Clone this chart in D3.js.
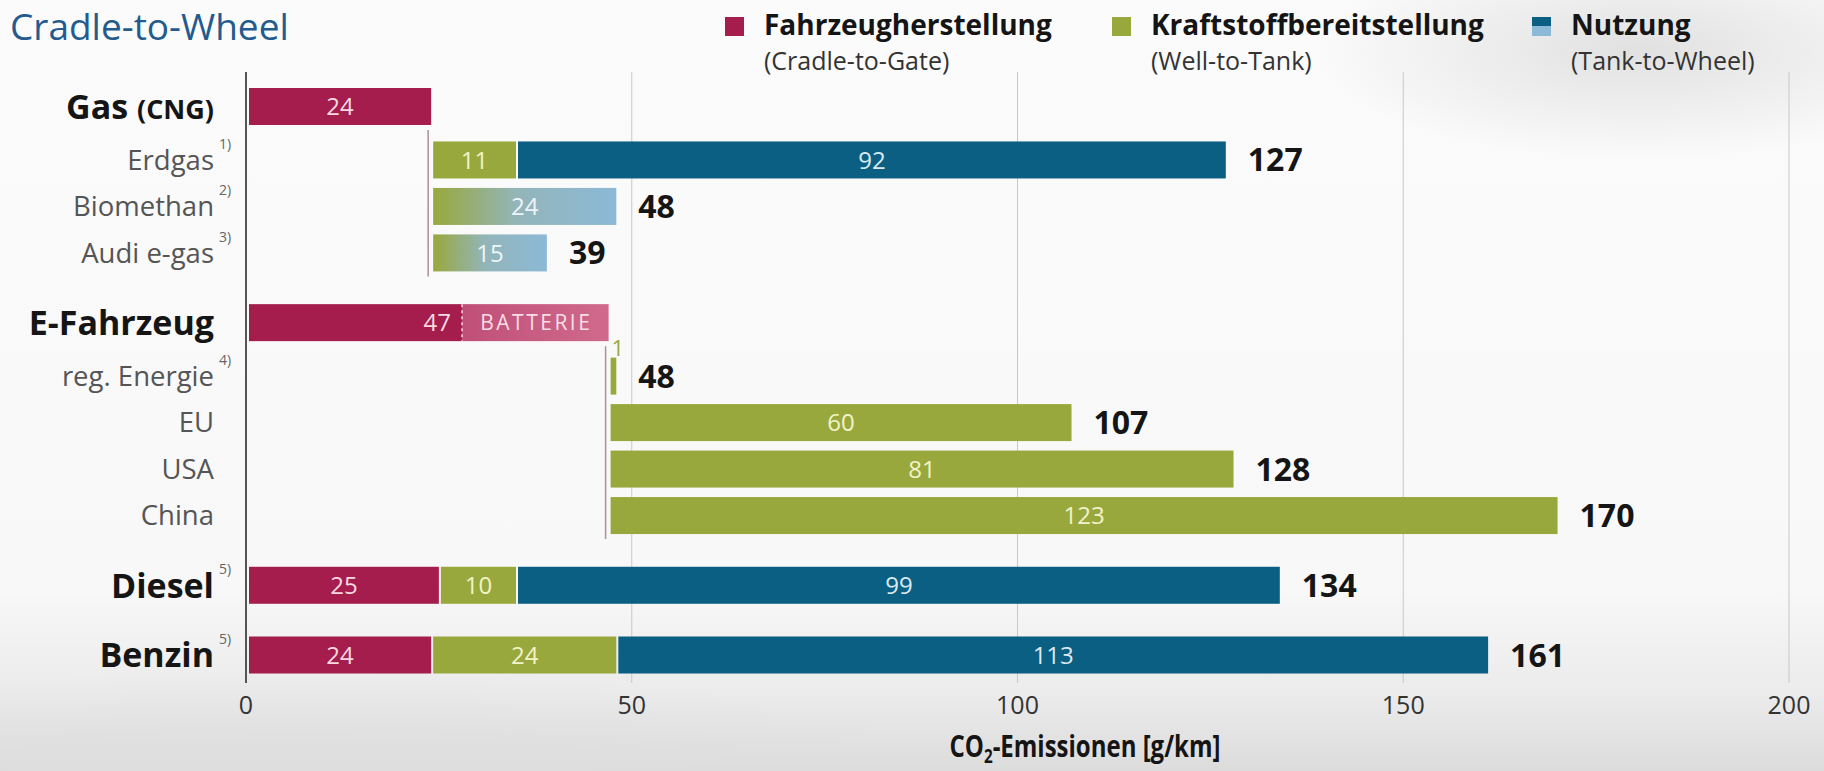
<!DOCTYPE html>
<html>
<head>
<meta charset="utf-8">
<script src="https://cdn.jsdelivr.net/npm/d3@7"></script>
<style>
  html, body { margin: 0; padding: 0; background: #fff; }
  svg { display: block; font-family: 'Open Sans', 'Noto Sans', sans-serif; }
</style>
</head>
<body>
<svg id="chart"></svg>
<script>
// categories, top to bottom
const rows = ['Gas', 'Erdgas', 'Biomethan', 'Audi e-gas', 'E-Fahrzeug', 'reg. Energie', 'EU', 'USA', 'China', 'Diesel', 'Benzin'];
const rowKind = ['head', 'sub', 'sub', 'sub', 'head', 'sub', 'sub', 'sub', 'sub', 'head', 'head'];
const footnotes = ['', '1)', '2)', '3)', '', '4)', '', '', '', '5)', '5)'];

// g CO2 / km
const startAt = [0, 24, 24, 24, 0, 47, 47, 47, 47, 0, 0];
const gateValues = [24, 0, 0, 0, 47, 0, 0, 0, 0, 25, 24];       // Fahrzeugherstellung
const wttValues = [0, 11, 0, 0, 0, 1, 60, 81, 123, 10, 24];      // Kraftstoffbereitstellung
const ttwValues = [0, 92, 0, 0, 0, 0, 0, 0, 0, 99, 113];         // Nutzung
const bioValues = [0, 0, 24, 15, 0, 0, 0, 0, 0, 0, 0];           // WTT + TTW, regenerativ
const totals = [null, 127, 48, 39, null, 48, 107, 128, 170, 134, 161];
const batteryShare = 19;   // Anteil Batterie an 47 g/km des E-Fahrzeugs

const xTicks = [0, 50, 100, 150, 200];

const legendItems = [
  { name: 'Fahrzeugherstellung', sub: '(Cradle-to-Gate)' },
  { name: 'Kraftstoffbereitstellung', sub: '(Well-to-Tank)' },
  { name: 'Nutzung', sub: '(Tank-to-Wheel)' }
];

const C = {
  red: '#a51d4c', green: '#99a83c', teal: '#0b5f82', light: '#8cb9d7',
  text: '#151515', grey: '#555'
};

const width = 1824, height = 771;
const svg = d3.select('#chart').attr('width', width).attr('height', height);
const defs = svg.append('defs');

// background
const bg = defs.append('linearGradient').attr('id', 'bg').attr('x1', 0).attr('y1', 0).attr('x2', 0).attr('y2', 1);
bg.append('stop').attr('offset', '0%').attr('stop-color', '#fbfbfb');
bg.append('stop').attr('offset', '76%').attr('stop-color', '#f8f8f8');
bg.append('stop').attr('offset', '90%').attr('stop-color', '#ebebeb');
bg.append('stop').attr('offset', '100%').attr('stop-color', '#dcdcdc');
svg.append('rect').attr('width', width).attr('height', height).attr('fill', 'url(#bg)');
const glow = defs.append('radialGradient').attr('id', 'glow');
glow.append('stop').attr('offset', '0%').attr('stop-color', '#dedede').attr('stop-opacity', 0.9);
glow.append('stop').attr('offset', '100%').attr('stop-color', '#dedede').attr('stop-opacity', 0);
svg.append('ellipse').attr('cx', 1640).attr('cy', 50).attr('rx', 330).attr('ry', 110).attr('fill', 'url(#glow)');
svg.append('ellipse').attr('cx', 300).attr('cy', 790).attr('rx', 700).attr('ry', 120).attr('fill', 'url(#glow)');

// gradients
const bio = defs.append('linearGradient').attr('id', 'bio');
bio.append('stop').attr('offset', '0%').attr('stop-color', C.green);
bio.append('stop').attr('offset', '45%').attr('stop-color', '#93b5b8');
bio.append('stop').attr('offset', '100%').attr('stop-color', C.light);
const batt = defs.append('linearGradient').attr('id', 'batt');
batt.append('stop').attr('offset', '0%').attr('stop-color', '#c04f77');
batt.append('stop').attr('offset', '100%').attr('stop-color', '#d06a8d');
const nutz = defs.append('linearGradient').attr('id', 'nutz').attr('x1', 0).attr('y1', 0).attr('x2', 0).attr('y2', 1);
nutz.append('stop').attr('offset', '50%').attr('stop-color', C.teal);
nutz.append('stop').attr('offset', '50%').attr('stop-color', C.light);

// scales
const x = d3.scaleLinear().domain([0, 200]).range([246, 1789]);

// row slots: wider gap before a group head, a bit more after it
const slots = [];
rows.forEach((r, i) => {
  if (i === 0) slots.push(0);
  else slots.push(slots[i - 1] + (rowKind[i] === 'head' ? 1.5 : rowKind[i - 1] === 'head' ? 1.15 : 1));
});
const y = d3.scaleLinear().domain([0, slots[slots.length - 1]]).range([106.5, 655]);
const barH = 37;
const plotTop = 72, plotBottom = 683;

// title
svg.append('text').attr('x', 10).attr('y', 40)
  .style('font-size', '37px').attr('fill', '#235b8e').text('Cradle-to-Wheel');

// legend
const legX = [725, 1112, 1532];
const leg = svg.append('g').selectAll('g').data(legendItems).join('g')
  .attr('transform', (d, i) => `translate(${legX[i]},0)`);
leg.append('rect').attr('y', 17).attr('width', 19).attr('height', 19)
  .attr('fill', (d, i) => [C.red, C.green, 'url(#nutz)'][i]);
leg.append('text').attr('x', 39).attr('y', 35).style('font-size', '28px').style('font-weight', 700)
  .attr('fill', C.text).text(d => d.name);
leg.append('text').attr('x', 39).attr('y', 70).style('font-size', '25px')
  .attr('fill', '#333').text(d => d.sub);

// grid
svg.append('g').selectAll('line').data(xTicks.slice(1)).join('line')
  .attr('x1', d => x(d)).attr('x2', d => x(d))
  .attr('y1', plotTop).attr('y2', plotBottom)
  .attr('stroke', '#c8c8c8').attr('stroke-width', 1);

// x axis labels
svg.append('g').selectAll('text').data(xTicks).join('text')
  .attr('x', d => x(d)).attr('y', 714).attr('text-anchor', 'middle')
  .style('font-size', '25px').attr('fill', '#333').text(d => d);

const axisTitle = svg.append('text').attr('transform', 'translate(1085,757) scale(0.8,1)').attr('text-anchor', 'middle')
  .style('font-size', '30px').style('font-weight', 700).attr('fill', C.text);
axisTitle.append('tspan').text('CO');
axisTitle.append('tspan').attr('dy', 6).style('font-size', '19px').text('2');
axisTitle.append('tspan').attr('dy', -6).text('-Emissionen [g/km]');

// connector lines from the vehicle bar down to the fuel variants
rows.forEach((r, i) => {
  if (rowKind[i] !== 'head') return;
  let j = i + 1;
  while (j < rows.length && rowKind[j] === 'sub') j++;
  if (j === i + 1) return;
  svg.append('line')
    .attr('x1', x(gateValues[i]) - 3).attr('x2', x(gateValues[i]) - 3)
    .attr('y1', y(slots[i]) + barH / 2 + 5).attr('y2', y(slots[j - 1]) + barH / 2 + 5)
    .attr('stroke', '#a9909c').attr('stroke-width', 1.5);
});

// stacked segments
const segs = [];
rows.forEach((r, i) => {
  let s = startAt[i];
  [[gateValues, C.red, 'gate'], [wttValues, C.green, 'wtt'], [ttwValues, C.teal, 'ttw'], [bioValues, 'url(#bio)', 'bio']]
    .forEach(([arr, fill, key]) => {
      const v = arr[i];
      if (!v) return;
      segs.push({ row: i, key, v, s0: s, s1: s + v, fill });
      s += v;
    });
});

const bars = svg.append('g');
segs.forEach(d => {
  const cy = y(slots[d.row]);
  const x0 = x(d.s0) + (d.s0 === 0 ? 3 : 2);
  const x1 = x(d.s1);
  if (d.key === 'gate' && rows[d.row] === 'E-Fahrzeug') {
    const split = x(d.s1 - batteryShare);
    bars.append('rect').attr('x', x0).attr('y', cy - barH / 2).attr('width', split - x0).attr('height', barH).attr('fill', C.red);
    bars.append('rect').attr('x', split).attr('y', cy - barH / 2).attr('width', x1 - split).attr('height', barH).attr('fill', 'url(#batt)');
    bars.append('line').attr('x1', split).attr('x2', split).attr('y1', cy - barH / 2).attr('y2', cy + barH / 2)
      .attr('stroke', '#f2d6e0').attr('stroke-width', 1.5).attr('stroke-dasharray', '3,3');
    bars.append('text').attr('x', split - 11).attr('y', cy).attr('dy', '0.36em').attr('text-anchor', 'end')
      .style('font-size', '24px').attr('fill', '#f6d8e3').text(d.v);
    bars.append('text').attr('x', (split + x1) / 2 + 1).attr('y', cy).attr('dy', '0.36em').attr('text-anchor', 'middle')
      .style('font-size', '21px').style('letter-spacing', '2.5px').attr('fill', '#f6dde6').text('BATTERIE');
    return;
  }
  bars.append('rect').attr('x', x0).attr('y', cy - barH / 2).attr('width', Math.max(1, x1 - x0)).attr('height', barH).attr('fill', d.fill);
  if (d.v > 1) {
    const tc = { gate: '#f6d8e3', wtt: '#f1f3c9', ttw: '#dbe9f1', bio: '#eef4f8' }[d.key];
    bars.append('text').attr('x', (x0 + x1) / 2).attr('y', cy).attr('dy', '0.36em').attr('text-anchor', 'middle')
      .style('font-size', '24px').attr('fill', tc).text(d.v);
  } else {
    bars.append('text').attr('x', x0 + 1).attr('y', cy - barH / 2 - 10).attr('dy', '0.36em')
      .style('font-size', '22px').attr('fill', C.green).text(d.v);
  }
});

// axis line
svg.append('line').attr('x1', x(0)).attr('x2', x(0)).attr('y1', plotTop).attr('y2', plotBottom)
  .attr('stroke', '#555').attr('stroke-width', 2);

// totals
svg.append('g').selectAll('text').data(rows.map((r, i) => ({ i, t: totals[i] })).filter(d => d.t != null)).join('text')
  .attr('x', d => x(d.t) + 22).attr('y', d => y(slots[d.i])).attr('dy', '0.36em')
  .style('font-size', '32px').style('font-weight', 700).attr('fill', C.text).text(d => d.t);

// row labels
const labels = svg.append('g').selectAll('text').data(rows.map((r, i) => ({ r, i }))).join('text')
  .attr('x', 214).attr('y', d => y(slots[d.i])).attr('dy', '0.36em').attr('text-anchor', 'end')
  .style('font-size', d => rowKind[d.i] === 'head' ? '34px' : '27.5px')
  .style('font-weight', d => rowKind[d.i] === 'head' ? 700 : 400)
  .attr('fill', d => rowKind[d.i] === 'head' ? C.text : C.grey);
labels.each(function (d) {
  const t = d3.select(this);
  if (d.r === 'Gas') {
    t.append('tspan').text('Gas ');
    t.append('tspan').style('font-size', '27px').text('(CNG)');
  } else {
    t.text(d.r);
  }
});
svg.append('g').selectAll('text').data(rows.map((r, i) => ({ i, f: footnotes[i] })).filter(d => d.f)).join('text')
  .attr('x', 219).attr('y', d => y(slots[d.i]) - 11)
  .style('font-size', '14px').attr('fill', '#666').text(d => d.f);
</script>
</body>
</html>
